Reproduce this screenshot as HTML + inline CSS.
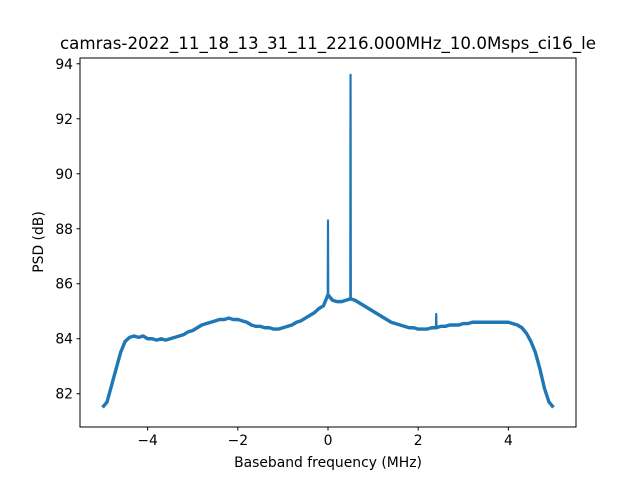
<!DOCTYPE html>
<html><head><meta charset="utf-8"><style>
body{margin:0;background:#fff;}
svg{display:block;font-family:"DejaVu Sans","Liberation Sans",sans-serif;}
</style></head><body>
<svg id="chart" width="640" height="480" viewBox="0 0 640 480">
<rect width="640" height="480" fill="#fff"/>
<text x="328" y="49" text-anchor="middle" font-size="16.7" fill="#000">camras-2022_11_18_13_31_11_2216.000MHz_10.0Msps_ci16_le</text>
<g id="plot"></g>
<rect x="80" y="58" width="496" height="369" fill="none" stroke="#000" stroke-width="1"/>
<text x="328" y="467" text-anchor="middle" font-size="13.9">Baseband frequency (MHz)</text>
<text transform="translate(43,242) rotate(-90)" text-anchor="middle" font-size="13.9">PSD (dB)</text>
</svg>
<script>
const baseFreq = [-5.0,-4.9,-4.8,-4.7,-4.6,-4.5,-4.4,-4.3,-4.2,-4.1,-4.0,-3.9,-3.8,-3.7,-3.6,-3.5,-3.4,-3.3,-3.2,-3.1,-3.0,-2.9,-2.8,-2.7,-2.6,-2.5,-2.4,-2.3,-2.2,-2.1,-2.0,-1.9,-1.8,-1.7,-1.6,-1.5,-1.4,-1.3,-1.2,-1.1,-1.0,-0.9,-0.8,-0.7,-0.6,-0.5,-0.4,-0.3,-0.2,-0.1,0.0,0.1,0.2,0.3,0.4,0.5,0.6,0.7,0.8,0.9,1.0,1.1,1.2,1.3,1.4,1.5,1.6,1.7,1.8,1.9,2.0,2.1,2.2,2.3,2.4,2.5,2.6,2.7,2.8,2.9,3.0,3.1,3.2,3.3,3.4,3.5,3.6,3.7,3.8,3.9,4.0,4.1,4.2,4.3,4.4,4.5,4.6,4.7,4.8,4.9,5.0];
const basePsd = [81.5,81.7,82.3,82.9,83.5,83.9,84.05,84.1,84.05,84.1,84.0,84.0,83.95,84.0,83.95,84.0,84.05,84.1,84.15,84.25,84.3,84.4,84.5,84.55,84.6,84.65,84.7,84.7,84.75,84.7,84.7,84.65,84.6,84.5,84.45,84.45,84.4,84.4,84.35,84.35,84.4,84.45,84.5,84.6,84.65,84.75,84.85,84.95,85.1,85.2,85.6,85.4,85.35,85.35,85.4,85.45,85.4,85.3,85.2,85.1,85.0,84.9,84.8,84.7,84.6,84.55,84.5,84.45,84.4,84.4,84.35,84.35,84.35,84.4,84.4,84.45,84.45,84.5,84.5,84.5,84.55,84.55,84.6,84.6,84.6,84.6,84.6,84.6,84.6,84.6,84.6,84.55,84.5,84.4,84.2,83.9,83.5,82.9,82.2,81.7,81.5];
const spikeFreq = [-0.006,0.0,0.006,0.494,0.5,0.506,2.394,2.4,2.406];
const spikePsd = [85.55,88.3,85.5,85.45,93.6,85.45,84.4,84.9,84.4];
const xTicks = [-4,-2,0,2,4];
const xTickLabels = ["\u22124","\u22122","0","2","4"];
const yTicks = [82,84,86,88,90,92,94];
const yTickLabels = ["82","84","86","88","90","92","94"];

const X0=80,X1=576,Y0=58,Y1=427;
const xmin=-5.5,xmax=5.5,ymin=80.79,ymax=94.21;
const sx=v=>X0+(v-xmin)/(xmax-xmin)*(X1-X0);
const sy=v=>Y1-(v-ymin)/(ymax-ymin)*(Y1-Y0);
const NS="http://www.w3.org/2000/svg";
const g=document.getElementById('plot');
function mk(t,a){const e=document.createElementNS(NS,t);for(const k in a)e.setAttribute(k,a[k]);return e;}

const pts=[];
baseFreq.forEach((f,i)=>pts.push([f,basePsd[i]]));
const d=pts.map((p,i)=>(i?'L':'M')+sx(p[0]).toFixed(2)+','+sy(p[1]).toFixed(2)).join(' ');
const line=mk('path',{d:d,fill:'none',stroke:'#1f77b4','stroke-width':3.4,'stroke-linejoin':'round'});


g.appendChild(line);

let sd='';
for(let i=0;i<spikeFreq.length;i+=3){
  sd+='M'+sx(spikeFreq[i]).toFixed(2)+','+sy(spikePsd[i]).toFixed(2)+' L'+sx(spikeFreq[i+1]).toFixed(2)+','+sy(spikePsd[i+1]).toFixed(2)+' L'+sx(spikeFreq[i+2]).toFixed(2)+','+sy(spikePsd[i+2]).toFixed(2)+' ';
}
const spikes=mk('path',{d:sd,fill:'none',stroke:'#1f77b4','stroke-width':2.2,'stroke-linejoin':'round'});


g.appendChild(spikes);

xTicks.forEach((t,i)=>{
  const x=sx(t);
  const tk=mk('line',{x1:x,x2:x,y1:Y1,y2:Y1+3.5,stroke:'#000'});
  
  
  g.appendChild(tk);
  const tx=mk('text',{x:x,y:Y1+18,'text-anchor':'middle','font-size':13.9});
  tx.textContent=xTickLabels[i];
  
  
  g.appendChild(tx);
});
yTicks.forEach((t,i)=>{
  const y=sy(t);
  const tk=mk('line',{x1:X0-3.5,x2:X0,y1:y,y2:y,stroke:'#000'});
  
  
  g.appendChild(tk);
  const tx=mk('text',{x:X0-7,y:y+5,'text-anchor':'end','font-size':13.9});
  tx.textContent=yTickLabels[i];
  
  
  g.appendChild(tx);
});
</script>
</body></html>
